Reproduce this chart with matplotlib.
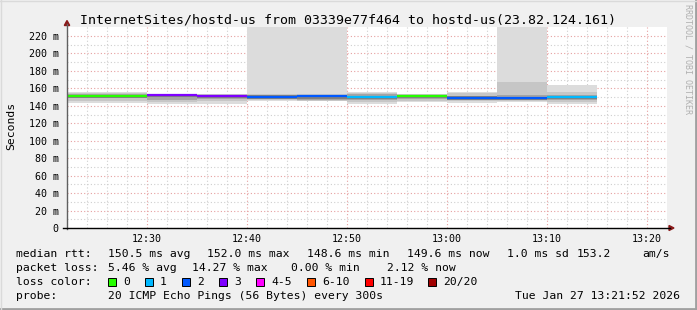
import numpy as np
import matplotlib
matplotlib.use('Agg')
import matplotlib.pyplot as plt
from matplotlib.patches import Rectangle, Polygon
from matplotlib.lines import Line2D

# 5-minute steps (first one is partial, chart starts 12:22)
seg_start = ["12:22", "12:25", "12:30", "12:35", "12:40", "12:45",
             "12:50", "12:55", "13:00", "13:05", "13:10"]
seg_last_end = "13:15"
median_ms = [151.4, 151.3, 152.6, 151.3, 150.6, 150.8, 150.2, 151.4, 149.2, 149.0, 150.0]
loss_cnt = [0, 0, 3, 3, 2, 2, 1, 0, 2, 2, 1]

# smoke (sorted ping spread) per step, ms; 240 = off the top of the chart
ping_min = [143.6, 143.6, 142.0, 142.0, 145.5, 145.0, 142.0, 144.0, 143.6, 144.0, 142.0]
ping_p10 = [146.0, 146.0, 144.0, 145.0, 147.0, 146.0, 144.5, 146.0, 145.0, 145.0, 144.0]
ping_p25 = [149.0, 149.0, 146.5, 147.5, 149.0, 147.0, 146.5, 148.0, 147.0, 146.5, 146.5]
ping_p75 = [153.0, 153.5, 152.0, 152.0, 152.5, 152.5, 153.0, 152.5, 151.5, 152.0, 152.5]
ping_p90 = [154.5, 155.0, 153.5, 153.0, 154.0, 154.0, 154.5, 153.5, 154.5, 167.5, 156.0]
ping_max = [155.8, 155.8, 154.0, 153.5, 240.0, 240.0, 155.5, 154.0, 156.0, 240.0, 164.0]

loss_labels = ["0", "1", "2", "3", "4-5", "6-10", "11-19", "20/20"]
loss_colors = ["#26ff00", "#00b8ff", "#0059ff", "#7e00ff", "#ff00ff", "#ff5500", "#ff0000", "#a10000"]
loss_label_x = [108, 145, 182, 219, 256, 307, 365, 428]

y_ticks = list(range(0, 221, 20))
x_tick_times = ["12:30", "12:40", "12:50", "13:00", "13:10", "13:20"]

W, H = 697, 310
mono = 'DejaVu Sans Mono'


def mins(s):
    h, m = map(int, s.split(':'))
    return h * 60 + m - (12 * 60 + 22)


def fx(px):
    return px / W


def fy(py):
    return 1 - py / H


starts = np.array([mins(s) for s in seg_start])
ends = np.append(starts[1:], mins(seg_last_end))
widths = ends - starts

fig = plt.figure(figsize=(6.97, 3.10), dpi=100, facecolor='#f0f0f0')
y_top = 228 - 230 * 192 / 220
ax = fig.add_axes([fx(67), fy(228), (667 - 67) / W, (228 - y_top) / H])
ax.set_facecolor('white')
ax.set_xlim(0, 60)
ax.set_ylim(0, 230)

# grid
ax.set_xticks([mins(t) for t in x_tick_times])
ax.set_xticks(np.arange(2, 60, 2), minor=True)
ax.set_yticks(y_ticks)
ax.set_yticks(np.arange(10, 230, 10), minor=True)
ax.grid(which='minor', color='#cfcfcf', ls=(0, (1, 2)), lw=0.8)
ax.grid(which='major', color='#e6a0a0', ls=(0, (1, 2)), lw=0.8)
ax.set_axisbelow(True)

# smoke
ax.bar(starts, np.array(ping_max) - ping_min, bottom=ping_min, width=widths,
       align='edge', color='#dcdcdc', lw=0)
ax.bar(starts, np.array(ping_p90) - ping_p10, bottom=ping_p10, width=widths,
       align='edge', color='#c6c6c6', lw=0)
ax.bar(starts, np.array(ping_p75) - ping_p25, bottom=ping_p25, width=widths,
       align='edge', color='#a4a4a4', lw=0)
ax.bar(starts, 4.0, bottom=np.array(median_ms) - 2.5, width=widths,
       align='edge', color='#808080', lw=0)

# median line coloured by loss
ax.hlines(median_ms, starts, ends, colors=[loss_colors[l] for l in loss_cnt], lw=1.6)

for s in ax.spines.values():
    s.set_visible(False)
ax.tick_params(which='both', direction='in', length=0, pad=6, labelsize=7.2,
               labelfontfamily=mono, colors='black')
ax.set_xticklabels(x_tick_times)
ax.set_yticklabels(["0"] + ["%d m" % v for v in y_ticks[1:]])
ax.tick_params(axis='x', pad=4)

# axes lines and arrows
fig.add_artist(Line2D([fx(67), fx(67)], [fy(229), fy(24)], color='#606060', lw=1))
fig.add_artist(Line2D([fx(63), fx(670)], [fy(228), fy(228)], color='black', lw=1))
fig.add_artist(Polygon([[fx(64.3), fy(25.5)], [fx(69.7), fy(25.5)], [fx(67), fy(20.5)]],
                       closed=True, color='#8b1a1a'))
fig.add_artist(Polygon([[fx(669), fy(225.5)], [fx(669), fy(230.5)], [fx(674), fy(228)]],
                       closed=True, color='#8b1a1a'))

fig.text(fx(348), fy(20), "InternetSites/hostd-us from 03339e77f464 to hostd-us(23.82.124.161)",
         ha='center', va='center', fontsize=9.5, family=mono)
fig.text(fx(11), fy(126), "Seconds", rotation=90, ha='center', va='center',
         fontsize=8.2, family=mono)
fig.text(fx(688), fy(4), "RRDTOOL / TOBI OETIKER", rotation=-90, ha='center', va='top',
         fontsize=6, family=mono, color='#b0b0b0')

fs = 8.2
rows = [
    (254, [(16, "median rtt:"), (108, "150.5 ms avg"), (207, "152.0 ms max"),
           (307, "148.6 ms min"), (407, "149.6 ms now"), (507, "1.0 ms sd"),
           (577, "153.2"), (642, "am/s")]),
    (268, [(16, "packet loss:"), (108, "5.46 % avg"), (192, "14.27 % max"),
           (291, "0.00 % min"), (387, "2.12 % now")]),
    (282, [(16, "loss color:")]),
    (296, [(16, "probe:"), (108, "20 ICMP Echo Pings (56 Bytes) every 300s")]),
]
for yy, parts in rows:
    for xx, txt in parts:
        fig.text(fx(xx), fy(yy), txt, ha='left', va='center', fontsize=fs, family=mono)
fig.text(fx(680), fy(296), "Tue Jan 27 13:21:52 2026", ha='right', va='center',
         fontsize=fs, family=mono)

for lx, lab, col in zip(loss_label_x, loss_labels, loss_colors):
    fig.add_artist(Rectangle((fx(lx), fy(286)), 8 / W, 8 / H, facecolor=col,
                             edgecolor='black', lw=0.7))
    fig.text(fx(lx + 15), fy(282), lab, ha='left', va='center', fontsize=fs, family=mono)

# frame shading
fig.add_artist(Line2D([0, 1], [fy(309), fy(309)], color='#a0a0a0', lw=2))
fig.add_artist(Line2D([fx(696), fx(696)], [0, 1], color='#a0a0a0', lw=2))
fig.add_artist(Line2D([0, 1], [fy(0.5), fy(0.5)], color='#dadada', lw=1))
fig.add_artist(Line2D([fx(0.5), fx(0.5)], [0, 1], color='#dadada', lw=1))

fig.savefig('out.png', dpi=100, facecolor=fig.get_facecolor())
